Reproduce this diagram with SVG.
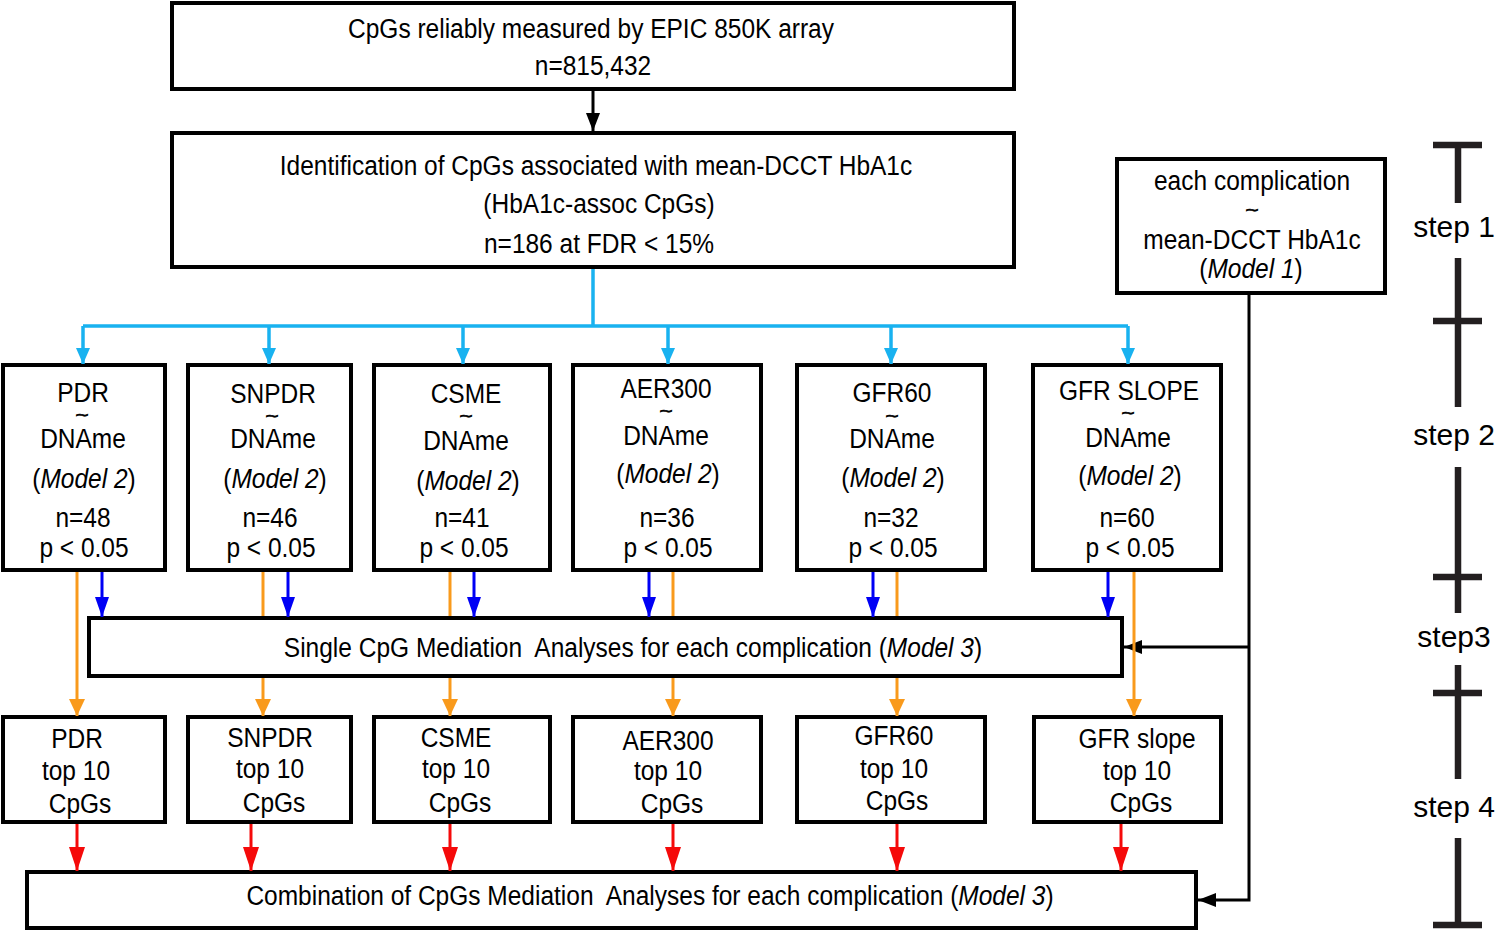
<svg xmlns="http://www.w3.org/2000/svg" width="1500" height="935" viewBox="0 0 1500 935">
<defs>
<style>
.box{fill:#fff;stroke:#000;stroke-width:4}
.t{font-family:"Liberation Sans",Arial,Helvetica,sans-serif;font-size:28px;fill:#000;text-anchor:middle;white-space:pre}
.tl{font-family:"Liberation Sans",Arial,Helvetica,sans-serif;font-size:16px;fill:#000;stroke:#000;stroke-width:0.7;text-anchor:middle}
.i{font-style:italic}
.step{font-family:"Liberation Sans",Arial,Helvetica,sans-serif;font-size:30px;fill:#000;text-anchor:middle}
.cy{fill:none;stroke:#19B2F0;stroke-width:3.5}
.bl{fill:none;stroke:#0000F5;stroke-width:3}
.or{fill:none;stroke:#F99A1C;stroke-width:3}
.rd{fill:none;stroke:#F50A0A;stroke-width:3}
.bk{fill:none;stroke:#000;stroke-width:3}
.ruler{fill:none;stroke:#231F20;stroke-width:6.5}
</style>
<marker id="mk" markerUnits="userSpaceOnUse" markerWidth="18" markerHeight="14" refX="18" refY="7" orient="auto" overflow="visible"><path d="M0,0 L18,7 L0,14 z" fill="#000"/></marker>
<marker id="mc" markerUnits="userSpaceOnUse" markerWidth="16" markerHeight="14" refX="16" refY="7" orient="auto" overflow="visible"><path d="M0,0 L16,7 L0,14 z" fill="#19B2F0"/></marker>
<marker id="mb" markerUnits="userSpaceOnUse" markerWidth="20" markerHeight="14" refX="20" refY="7" orient="auto" overflow="visible"><path d="M0,0 L20,7 L0,14 z" fill="#0000F5"/></marker>
<marker id="mo" markerUnits="userSpaceOnUse" markerWidth="17" markerHeight="16" refX="17" refY="8" orient="auto" overflow="visible"><path d="M0,0 L17,8 L0,16 z" fill="#F99A1C"/></marker>
<marker id="mr" markerUnits="userSpaceOnUse" markerWidth="24" markerHeight="16" refX="24" refY="8" orient="auto" overflow="visible"><path d="M0,0 L24,8 L0,16 z" fill="#F50A0A"/></marker>
</defs>
<rect x="0" y="0" width="1500" height="935" fill="#fff"/>

<g id="n-cpgs-all">
<rect class="box" x="172" y="3" width="842" height="86"/>
<text class="t" transform="translate(591,38) scale(.875,1)">CpGs reliably measured by EPIC 850K array</text>
<text class="t" transform="translate(593,75) scale(.875,1)">n=815,432</text>
</g>

<g id="n-hba1c-assoc">
<rect class="box" x="172" y="133" width="842" height="134"/>
<text class="t" transform="translate(596,175) scale(.875,1)">Identification of CpGs associated with mean-DCCT HbA1c</text>
<text class="t" transform="translate(599,213) scale(.875,1)">(HbA1c-assoc CpGs)</text>
<text class="t" transform="translate(599,253) scale(.875,1)">n=186 at FDR &lt; 15%</text>
</g>

<g id="n-model1">
<rect class="box" x="1117" y="159" width="268" height="134"/>
<text class="t" transform="translate(1252,190) scale(.875,1)">each complication</text>
<text class="tl" transform="translate(1252,216) scale(1.4,1)">~</text>
<text class="t" transform="translate(1252,249) scale(.875,1)">mean-DCCT HbA1c</text>
<text class="t" transform="translate(1251,278) scale(.875,1)">(<tspan class="i">Model 1</tspan>)</text>
</g>

<g id="n-pdr-m2">
<rect class="box" x="3" y="365" width="162" height="205"/>
<text class="t" transform="translate(83,402) scale(.875,1)">PDR</text>
<text class="tl" transform="translate(82,421) scale(1.4,1)">~</text>
<text class="t" transform="translate(83,448) scale(.875,1)">DNAme</text>
<text class="t" transform="translate(84,488) scale(.875,1)">(<tspan class="i">Model 2</tspan>)</text>
<text class="t" transform="translate(83,527) scale(.875,1)">n=48</text>
<text class="t" transform="translate(84,557) scale(.875,1)">p &lt; 0.05</text>
</g>

<g id="n-snpdr-m2">
<rect class="box" x="188" y="365" width="163" height="205"/>
<text class="t" transform="translate(273,403) scale(.875,1)">SNPDR</text>
<text class="tl" transform="translate(272,422) scale(1.4,1)">~</text>
<text class="t" transform="translate(273,448) scale(.875,1)">DNAme</text>
<text class="t" transform="translate(275,488) scale(.875,1)">(<tspan class="i">Model 2</tspan>)</text>
<text class="t" transform="translate(270,527) scale(.875,1)">n=46</text>
<text class="t" transform="translate(271,557) scale(.875,1)">p &lt; 0.05</text>
</g>

<g id="n-csme-m2">
<rect class="box" x="374" y="365" width="176" height="205"/>
<text class="t" transform="translate(466,403) scale(.875,1)">CSME</text>
<text class="tl" transform="translate(466,422) scale(1.4,1)">~</text>
<text class="t" transform="translate(466,450) scale(.875,1)">DNAme</text>
<text class="t" transform="translate(468,490) scale(.875,1)">(<tspan class="i">Model 2</tspan>)</text>
<text class="t" transform="translate(462,527) scale(.875,1)">n=41</text>
<text class="t" transform="translate(464,557) scale(.875,1)">p &lt; 0.05</text>
</g>

<g id="n-aer300-m2">
<rect class="box" x="573" y="365" width="188" height="205"/>
<text class="t" transform="translate(666,398) scale(.875,1)">AER300</text>
<text class="tl" transform="translate(666,417) scale(1.4,1)">~</text>
<text class="t" transform="translate(666,445) scale(.875,1)">DNAme</text>
<text class="t" transform="translate(668,483) scale(.875,1)">(<tspan class="i">Model 2</tspan>)</text>
<text class="t" transform="translate(667,527) scale(.875,1)">n=36</text>
<text class="t" transform="translate(668,557) scale(.875,1)">p &lt; 0.05</text>
</g>

<g id="n-gfr60-m2">
<rect class="box" x="797" y="365" width="188" height="205"/>
<text class="t" transform="translate(892,402) scale(.875,1)">GFR60</text>
<text class="tl" transform="translate(892,422) scale(1.4,1)">~</text>
<text class="t" transform="translate(892,448) scale(.875,1)">DNAme</text>
<text class="t" transform="translate(893,487) scale(.875,1)">(<tspan class="i">Model 2</tspan>)</text>
<text class="t" transform="translate(891,527) scale(.875,1)">n=32</text>
<text class="t" transform="translate(893,557) scale(.875,1)">p &lt; 0.05</text>
</g>

<g id="n-gfrslope-m2">
<rect class="box" x="1033" y="365" width="188" height="205"/>
<text class="t" transform="translate(1129,400) scale(.875,1)">GFR SLOPE</text>
<text class="tl" transform="translate(1128,419) scale(1.4,1)">~</text>
<text class="t" transform="translate(1128,447) scale(.875,1)">DNAme</text>
<text class="t" transform="translate(1130,485) scale(.875,1)">(<tspan class="i">Model 2</tspan>)</text>
<text class="t" transform="translate(1127,527) scale(.875,1)">n=60</text>
<text class="t" transform="translate(1130,557) scale(.875,1)">p &lt; 0.05</text>
</g>

<g id="n-single-mediation">
<rect class="box" x="89" y="618" width="1033" height="58"/>
<text class="t" xml:space="preserve" transform="translate(633,657) scale(.875,1)">Single CpG Mediation  Analyses for each complication (<tspan class="i">Model 3</tspan>)</text>
</g>

<g id="n-pdr-top10">
<rect class="box" x="3" y="717" width="162" height="105"/>
<text class="t" transform="translate(77,748) scale(.875,1)">PDR</text>
<text class="t" transform="translate(76,780) scale(.875,1)">top 10</text>
<text class="t" transform="translate(80,813) scale(.875,1)">CpGs</text>
</g>

<g id="n-snpdr-top10">
<rect class="box" x="188" y="717" width="163" height="105"/>
<text class="t" transform="translate(270,747) scale(.875,1)">SNPDR</text>
<text class="t" transform="translate(270,778) scale(.875,1)">top 10</text>
<text class="t" transform="translate(274,812) scale(.875,1)">CpGs</text>
</g>

<g id="n-csme-top10">
<rect class="box" x="374" y="717" width="176" height="105"/>
<text class="t" transform="translate(456,747) scale(.875,1)">CSME</text>
<text class="t" transform="translate(456,778) scale(.875,1)">top 10</text>
<text class="t" transform="translate(460,812) scale(.875,1)">CpGs</text>
</g>

<g id="n-aer300-top10">
<rect class="box" x="573" y="717" width="188" height="105"/>
<text class="t" transform="translate(668,750) scale(.875,1)">AER300</text>
<text class="t" transform="translate(668,780) scale(.875,1)">top 10</text>
<text class="t" transform="translate(672,813) scale(.875,1)">CpGs</text>
</g>

<g id="n-gfr60-top10">
<rect class="box" x="797" y="717" width="188" height="105"/>
<text class="t" transform="translate(894,745) scale(.875,1)">GFR60</text>
<text class="t" transform="translate(894,778) scale(.875,1)">top 10</text>
<text class="t" transform="translate(897,810) scale(.875,1)">CpGs</text>
</g>

<g id="n-gfrslope-top10">
<rect class="box" x="1034" y="717" width="187" height="105"/>
<text class="t" transform="translate(1137,748) scale(.875,1)">GFR slope</text>
<text class="t" transform="translate(1137,780) scale(.875,1)">top 10</text>
<text class="t" transform="translate(1141,812) scale(.875,1)">CpGs</text>
</g>

<g id="n-combination-mediation">
<rect class="box" x="27" y="872" width="1169" height="56"/>
<text class="t" xml:space="preserve" transform="translate(650,905) scale(.875,1)">Combination of CpGs Mediation  Analyses for each complication (<tspan class="i">Model 3</tspan>)</text>
</g>

<g id="step-ruler">
<path class="ruler" d="M1433,145 H1482 M1458,145 V203 M1458,258 V407 M1433,321 H1482 M1458,467 V613 M1433,577 H1482 M1458,665 V779 M1433,693 H1482 M1458,838 V925 M1433,925 H1482"/>
<text class="step" x="1454" y="237">step 1</text>
<text class="step" x="1454" y="445">step 2</text>
<text class="step" x="1454" y="647">step3</text>
<text class="step" x="1454" y="817">step 4</text>
</g>

<g id="connectors">
<path class="bk" d="M593,91 V131" marker-end="url(#mk)"/>
<path class="cy" d="M593,269 V326 M83,326 H1128"/>
<path class="cy" d="M83,326 V364" marker-end="url(#mc)"/>
<path class="cy" d="M269,326 V364" marker-end="url(#mc)"/>
<path class="cy" d="M463,326 V364" marker-end="url(#mc)"/>
<path class="cy" d="M668,326 V364" marker-end="url(#mc)"/>
<path class="cy" d="M891,326 V364" marker-end="url(#mc)"/>
<path class="cy" d="M1128,326 V364" marker-end="url(#mc)"/>

<path class="bl" d="M102,572 V617" marker-end="url(#mb)"/>
<path class="bl" d="M288,572 V617" marker-end="url(#mb)"/>
<path class="bl" d="M474,572 V617" marker-end="url(#mb)"/>
<path class="bl" d="M649,572 V617" marker-end="url(#mb)"/>
<path class="bl" d="M873,572 V617" marker-end="url(#mb)"/>
<path class="bl" d="M1108,572 V617" marker-end="url(#mb)"/>

<path class="or" d="M77,572 V716" marker-end="url(#mo)"/>
<path class="or" d="M263,572 V616"/>
<path class="or" d="M263,678 V716" marker-end="url(#mo)"/>
<path class="or" d="M450,572 V616"/>
<path class="or" d="M450,678 V716" marker-end="url(#mo)"/>
<path class="or" d="M673,572 V616"/>
<path class="or" d="M673,678 V716" marker-end="url(#mo)"/>
<path class="or" d="M897,572 V616"/>
<path class="or" d="M897,678 V716" marker-end="url(#mo)"/>
<path class="bk" d="M1249,295 V900 H1198" marker-end="url(#mk)"/>
<path class="bk" d="M1249,647 H1124" marker-end="url(#mk)"/>
<path class="or" d="M1134,572 V716" marker-end="url(#mo)"/>

<path class="rd" d="M77,824 V871" marker-end="url(#mr)"/>
<path class="rd" d="M251,824 V871" marker-end="url(#mr)"/>
<path class="rd" d="M450,824 V871" marker-end="url(#mr)"/>
<path class="rd" d="M673,824 V871" marker-end="url(#mr)"/>
<path class="rd" d="M897,824 V871" marker-end="url(#mr)"/>
<path class="rd" d="M1121,824 V871" marker-end="url(#mr)"/>
</g>
</svg>
